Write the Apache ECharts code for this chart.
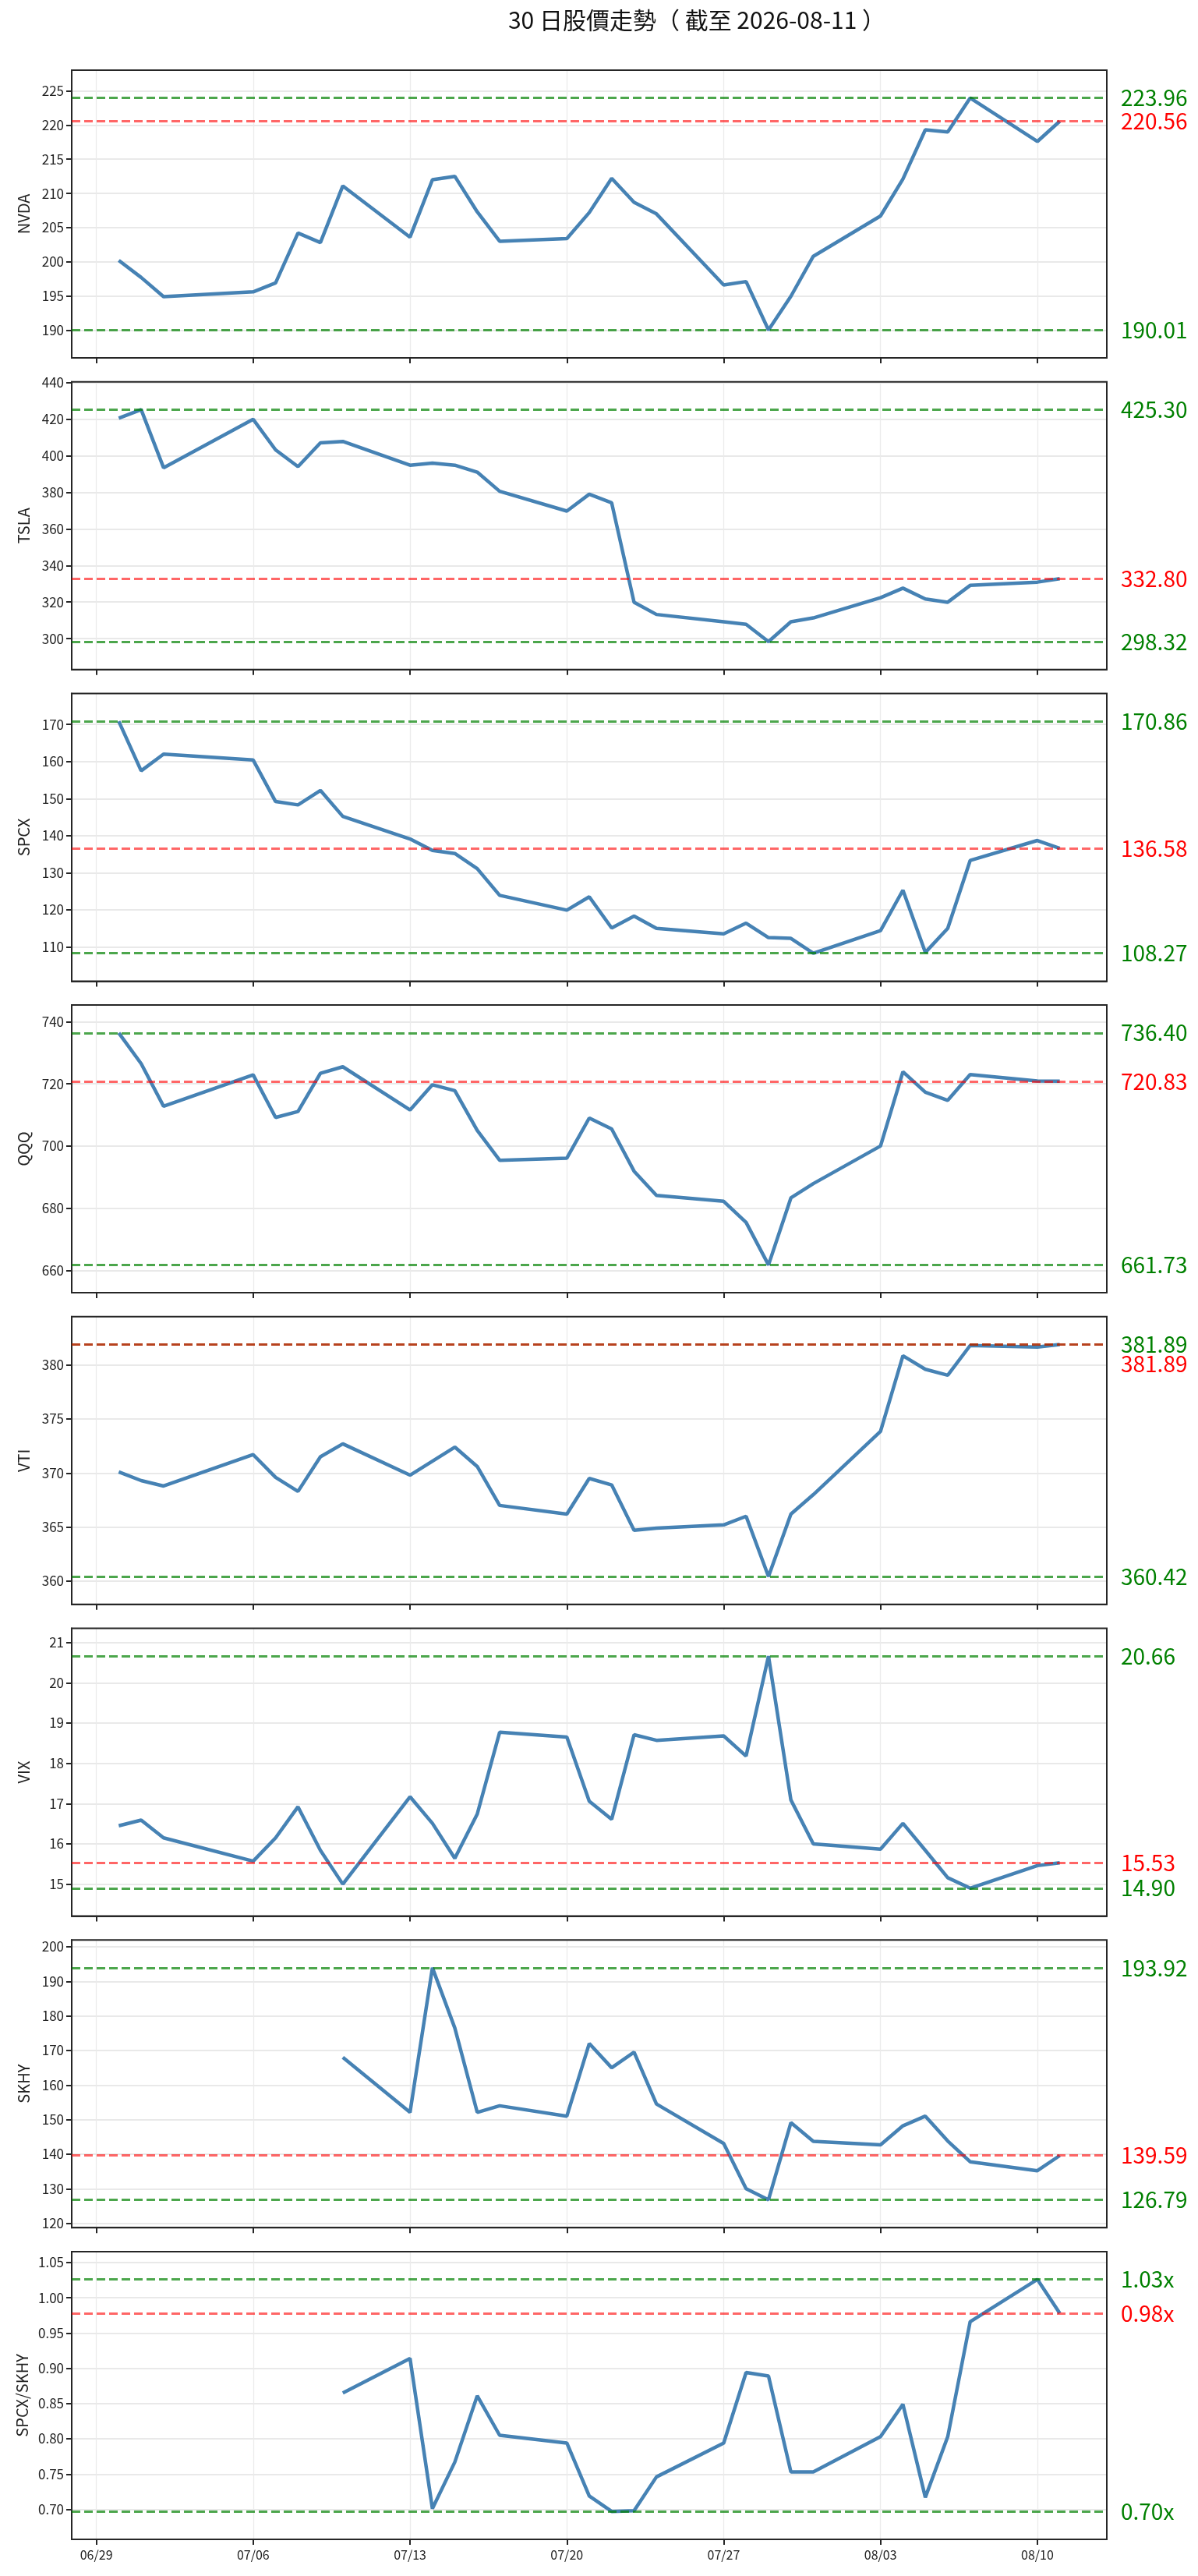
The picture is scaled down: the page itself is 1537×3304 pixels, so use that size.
<!DOCTYPE html>
<html lang="zh-TW">
<head>
<meta charset="UTF-8">
<title>30 日股價走勢</title>
<script src="https://cdn.jsdelivr.net/npm/echarts@6/dist/echarts.min.js"></script>
<style>
    html, body { margin: 0; padding: 0; background: #fff; }
    #chart { width: 1537px; height: 3304px; }
</style>
</head>
<body>
<div id="chart"></div>
<script>
    // trading days
    const dates = [
        '2026-06-30', '2026-07-01', '2026-07-02',
        '2026-07-06', '2026-07-07', '2026-07-08', '2026-07-09', '2026-07-10',
        '2026-07-13', '2026-07-14', '2026-07-15', '2026-07-16', '2026-07-17',
        '2026-07-20', '2026-07-21', '2026-07-22', '2026-07-23', '2026-07-24',
        '2026-07-27', '2026-07-28', '2026-07-29', '2026-07-30', '2026-07-31',
        '2026-08-03', '2026-08-04', '2026-08-05', '2026-08-06', '2026-08-07',
        '2026-08-10', '2026-08-11'
    ];
    const weekTicks = ['2026-06-29', '2026-07-06', '2026-07-13', '2026-07-20', '2026-07-27', '2026-08-03', '2026-08-10'];

    const nvda = [200.2, 197.7, 194.9, 195.6, 196.9, 204.2, 202.8, 211.1, 203.6, 212.0, 212.5, 207.3, 203.0, 203.4, 207.2,
        212.2, 208.7, 207.0, 196.6, 197.1, 190.01, 194.95, 200.8, 206.7, 212.1, 219.3, 219.0, 223.96, 217.6, 220.56];
    const tsla = [420.6, 425.30, 393.5, 420.0, 403.3, 394.1, 407.1, 407.9, 394.9, 396.0, 394.9, 391.1, 380.6, 369.8, 379.0,
        374.3, 319.9, 313.2, 309.2, 307.8, 298.32, 309.2, 311.3, 322.4, 327.6, 321.7, 319.9, 329.1, 330.9, 332.80];
    const spcx = [170.86, 157.5, 162.0, 160.4, 149.2, 148.3, 152.2, 145.2, 139.1, 136.0, 135.2, 131.1, 123.9, 119.9, 123.5,
        115.1, 118.3, 115.0, 113.5, 116.4, 112.5, 112.3, 108.27, 114.4, 125.3, 108.5, 115.0, 133.3, 138.7, 136.58];
    const qqq = [736.40, 726.5, 712.8, 722.9, 709.2, 711.1, 723.4, 725.5, 711.6, 719.7, 717.8, 705.0, 695.4, 696.1, 709.0,
        705.5, 691.9, 684.1, 682.2, 675.4, 661.73, 683.3, 687.9, 700.0, 723.9, 717.3, 714.7, 723.0, 720.9, 720.83];
    const vti = [370.1, 369.3, 368.8, 371.7, 369.6, 368.3, 371.5, 372.7, 369.8, 371.1, 372.4, 370.6, 367.0, 366.2, 369.5,
        368.9, 364.7, 364.9, 365.2, 366.0, 360.42, 366.2, 368.0, 373.85, 380.85, 379.6, 379.05, 381.8, 381.65, 381.89];
    const vix = [16.45, 16.59, 16.15, 15.57, 16.15, 16.92, 15.84, 15.00, 17.17, 16.51, 15.64, 16.74, 18.77, 18.65, 17.06,
        16.61, 18.71, 18.57, 18.68, 18.18, 20.66, 17.09, 16.00, 15.87, 16.51, 15.84, 15.16, 14.90, 15.46, 15.53];
    const skhy = [null, null, null, null, null, null, null, 168.0, 152.1, 193.92, 176.5, 152.1, 154.0, 151.0, 172.0,
        165.0, 169.5, 154.5, 143.1, 130.0, 126.79, 149.1, 143.7, 142.7, 148.2, 151.0, 143.8, 137.8, 135.2, 139.59];
    const spcxSkhy = [null, null, null, null, null, null, null, 0.865, 0.914, 0.701, 0.767, 0.861, 0.805, 0.794, 0.719,
        0.697, 0.698, 0.746, 0.794, 0.894, 0.889, 0.753, 0.753, 0.803, 0.849, 0.717, 0.803, 0.966, 1.026, 0.978];

    const nvdaTicks = [190, 195, 200, 205, 210, 215, 220, 225];
    const tslaTicks = [300, 320, 340, 360, 380, 400, 420, 440];
    const spcxTicks = [110, 120, 130, 140, 150, 160, 170];
    const qqqTicks = [660, 680, 700, 720, 740];
    const vtiTicks = [360, 365, 370, 375, 380];
    const vixTicks = [15, 16, 17, 18, 19, 20, 21];
    const skhyTicks = [120, 130, 140, 150, 160, 170, 180, 190, 200];
    const ratioTicks = [0.70, 0.75, 0.80, 0.85, 0.90, 0.95, 1.00, 1.05];

    const panels = [
        {name: 'NVDA', values: nvda, ticks: nvdaTicks},
        {name: 'TSLA', values: tsla, ticks: tslaTicks},
        {name: 'SPCX', values: spcx, ticks: spcxTicks},
        {name: 'QQQ', values: qqq, ticks: qqqTicks},
        {name: 'VTI', values: vti, ticks: vtiTicks},
        {name: 'VIX', values: vix, ticks: vixTicks},
        {name: 'SKHY', values: skhy, ticks: skhyTicks},
        {name: 'SPCX/SKHY', values: spcxSkhy, ticks: ratioTicks, ratio: true}
    ];

    const FONT = '"Noto Sans CJK TC", "Noto Sans", sans-serif';
    const INK = '#262626';
    const GREEN_LINE = 'rgba(0,128,0,0.7)';
    const RED_LINE = 'rgba(255,0,0,0.6)';
    const toTime = s => new Date(s + 'T00:00:00').getTime();
    const times = dates.map(toTime);
    const weekTimes = weekTicks.map(toTime);
    const t0 = times[0];
    const t1 = times[times.length - 1];
    const xPad = (t1 - t0) * 0.05;

    function mmdd(v) {
        const d = new Date(v);
        return String(d.getMonth() + 1).padStart(2, '0') + '/' + String(d.getDate()).padStart(2, '0');
    }

    const grids = [], xAxes = [], yAxes = [], series = [];
    panels.forEach((p, i) => {
        const vals = p.values.filter(v => v != null);
        const lo = Math.min(...vals);
        const hi = Math.max(...vals);
        const last = vals[vals.length - 1];
        const pad = (hi - lo) * 0.12;
        const suffix = p.ratio ? 'x' : '';
        const isLast = i === panels.length - 1;
        // red label would sit on top of a green one: push it one line down
        const crowded = Math.abs(last - hi) < (hi - lo) * 0.03 || Math.abs(last - lo) < (hi - lo) * 0.03;

        grids.push({
            left: 92, width: 1328, top: 90 + i * 399.7, height: 369, z: 2,
            show: true, borderColor: INK, borderWidth: 2, backgroundColor: 'transparent'
        });
        xAxes.push({
            type: 'value', gridIndex: i,
            min: t0 - xPad, max: t1 + xPad,
            axisLine: {show: true, onZero: false, lineStyle: {color: INK, width: 2}},
            axisTick: {show: true, inside: false, length: 7, customValues: weekTimes, lineStyle: {color: INK, width: 2}},
            axisLabel: {show: isLast, customValues: weekTimes, formatter: mmdd, fontSize: 16, color: '#222',
                fontFamily: FONT, margin: 12},
            splitLine: {show: true, lineStyle: {color: '#ebebeb', width: 1.3}}
        });
        yAxes.push({
            type: 'value', gridIndex: i,
            min: lo - pad, max: hi + pad,
            name: p.name, nameLocation: 'middle', nameGap: 52,
            nameTextStyle: {fontSize: 20, color: '#222', fontFamily: FONT},
            axisLine: {show: true, lineStyle: {color: INK, width: 2}},
            axisTick: {show: true, inside: false, length: 7, customValues: p.ticks, lineStyle: {color: INK, width: 2}},
            axisLabel: {customValues: p.ticks, fontSize: 17, color: '#222', fontFamily: FONT, margin: 10,
                formatter: v => p.ratio ? v.toFixed(2) : String(v)},
            splitLine: {show: true, lineStyle: {color: '#e9e9e9', width: 1.8}}
        });

        const refLabel = (val, color, shifted) => ({
            show: true, position: 'end', distance: 18, color: color, fontSize: 28, fontFamily: FONT,
            lineHeight: shifted ? 50 : 34,
            formatter: () => (shifted ? '\n' : '') + val.toFixed(2) + suffix
        });
        const dash = color => ({color: color, type: [11, 5], width: 3.2, opacity: 1});

        series.push({
            type: 'line', xAxisIndex: i, yAxisIndex: i,
            data: times.map((t, j) => [t, p.values[j]]),
            showSymbol: false, symbol: 'none',
            lineStyle: {color: '#4682b4', width: 4.5},
            itemStyle: {color: '#4682b4'},
            z: 3,
            markLine: {
                silent: true, symbol: 'none', animation: false, precision: 4,
                data: [
                    {yAxis: lo, lineStyle: dash(GREEN_LINE), label: refLabel(lo, '#008000')},
                    {yAxis: hi, lineStyle: dash(GREEN_LINE), label: refLabel(hi, '#008000')},
                    {yAxis: last, lineStyle: dash(RED_LINE), label: refLabel(last, '#ff0000', crowded)}
                ]
            }
        });
    });

    const chart = echarts.init(document.getElementById('chart'), null, {renderer: 'canvas'});
    chart.setOption({
        animation: false,
        backgroundColor: '#fff',
        title: {
            text: '30 日股價走勢（ 截至 2026-08-11 ）',
            left: 894, top: 11, padding: 0, textAlign: 'center',
            textStyle: {fontSize: 30, fontWeight: 'normal', color: '#111', fontFamily: FONT}
        },
        grid: grids,
        xAxis: xAxes,
        yAxis: yAxes,
        series: series
    });
</script>
</body>
</html>
